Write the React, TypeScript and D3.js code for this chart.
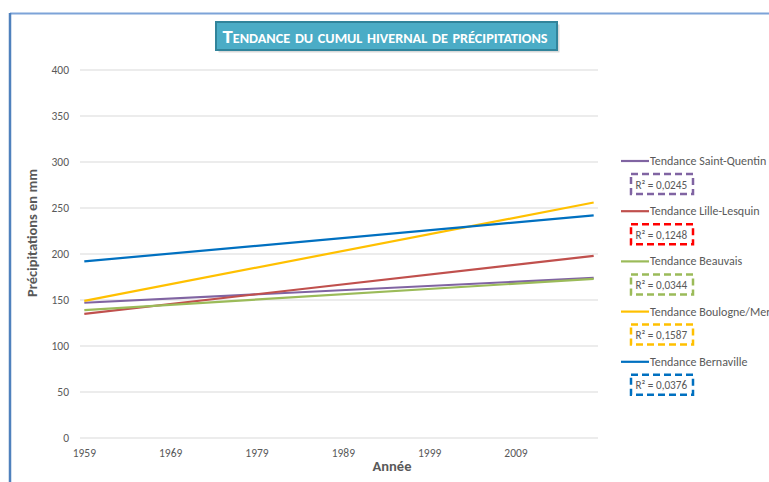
import React from "react";
import * as d3 from "d3";

const stations = ["Saint-Quentin", "Lille-Lesquin", "Beauvais", "Boulogne/Mer", "Bernaville"];
const colors = ["#8064A2", "#C0504D", "#9BBB59", "#FFC000", "#0070C0"];
const startValues = [147, 135, 139, 149, 192];
const endValues = [174, 198, 173, 256, 242];
const r2Labels = ["0,0245", "0,1248", "0,0344", "0,1587", "0,0376"];
const boxColors = ["#8064A2", "#FF0000", "#9BBB59", "#FFC000", "#0070C0"];
const firstYear = 1959;
const lastYear = 2018;
const yearTicks = [1959, 1969, 1979, 1989, 1999, 2009];
const yTicks = [0, 50, 100, 150, 200, 250, 300, 350, 400];

const W = 769;
const H = 482;
const plotL = 80;
const plotR = 598;
const plotT = 70;
const plotB = 438;
const FONT = "Carlito, Calibri, Lato, 'Open Sans', sans-serif";
const GRAY = "#595959";

export default function App() {
  const nCat = lastYear - firstYear + 1;
  const catW = (plotR - plotL) / nCat;
  const x = d3
    .scaleLinear()
    .domain([firstYear, lastYear])
    .range([plotL + catW / 2, plotR - catW / 2]);
  const y = d3.scaleLinear().domain([0, 400]).range([plotB, plotT]);
  const line = d3
    .line<[number, number]>()
    .x((d) => x(d[0]))
    .y((d) => y(d[1]));

  return (
    <svg
      width={W}
      height={H}
      style={{ position: "absolute", left: 0, top: 0, fontFamily: FONT }}
    >
      <rect x={0} y={0} width={W} height={H} fill="#fff" />
      {/* frame */}
      <line x1={10} y1={13.5} x2={W} y2={13.5} stroke="#7DA3D8" strokeWidth={2} />
      <line x1={10} y1={13} x2={10} y2={H} stroke="#4F81BD" strokeWidth={2.5} />

      {/* gridlines */}
      {yTicks.map((t) => (
        <g key={t}>
          <line x1={plotL} x2={plotR} y1={y(t)} y2={y(t)} stroke="#D9D9D9" strokeWidth={1} />
          <text x={69} y={y(t) + 4} textAnchor="end" fontSize={11.5} fill={GRAY}>
            {t}
          </text>
        </g>
      ))}
      {yearTicks.map((yr) => (
        <text key={yr} x={x(yr)} y={457} textAnchor="middle" fontSize={11.5} fill={GRAY}>
          {yr}
        </text>
      ))}

      {/* axis titles */}
      <text
        transform={`translate(37,233) rotate(-90)`}
        textAnchor="middle"
        fontSize={14.5}
        fontWeight="bold"
        fill={GRAY}
      >
        Précipitations en mm
      </text>
      <text x={392} y={471} textAnchor="middle" fontSize={14.5} fontWeight="bold" fill={GRAY}>
        Année
      </text>

      {/* trend lines */}
      {stations.map((s, i) => (
        <path
          key={s}
          d={line([
            [firstYear, startValues[i]],
            [lastYear, endValues[i]],
          ]) as string}
          fill="none"
          stroke={colors[i]}
          strokeWidth={2.2}
        />
      ))}

      {/* legend */}
      {stations.map((s, i) => {
        const ly = 161 + i * 50.2;
        return (
          <g key={s}>
            <line x1={621} x2={649} y1={ly} y2={ly} stroke={colors[i]} strokeWidth={2.2} />
            <text x={650} y={ly + 4} fontSize={12} fill={GRAY}>
              Tendance {s}
            </text>
            <rect
              x={631}
              y={ly + 13}
              width={62}
              height={20}
              fill="none"
              stroke={boxColors[i]}
              strokeWidth={2.5}
              strokeDasharray="7,4"
            />
            <text x={635.5} y={ly + 27.5} fontSize={11.2} fill={GRAY}>
              R² = {r2Labels[i]}
            </text>
          </g>
        );
      })}

      {/* title */}
      <rect x={217} y={23} width={341} height={28} fill="#000" opacity={0.15} transform="translate(1.5,1.5)" />
      <rect x={216} y={22} width={341} height={28} fill="#4BACC6" stroke="#31849B" strokeWidth={2} />
      <text
        x={385}
        y={43}
        textAnchor="middle"
        fontSize={19}
        fontWeight="bold"
        fill="#fff"
        textLength={325}
        lengthAdjust="spacingAndGlyphs"
        style={{ fontVariant: "small-caps" }}
      >
        Tendance du cumul hivernal de précipitations
      </text>
    </svg>
  );
}
